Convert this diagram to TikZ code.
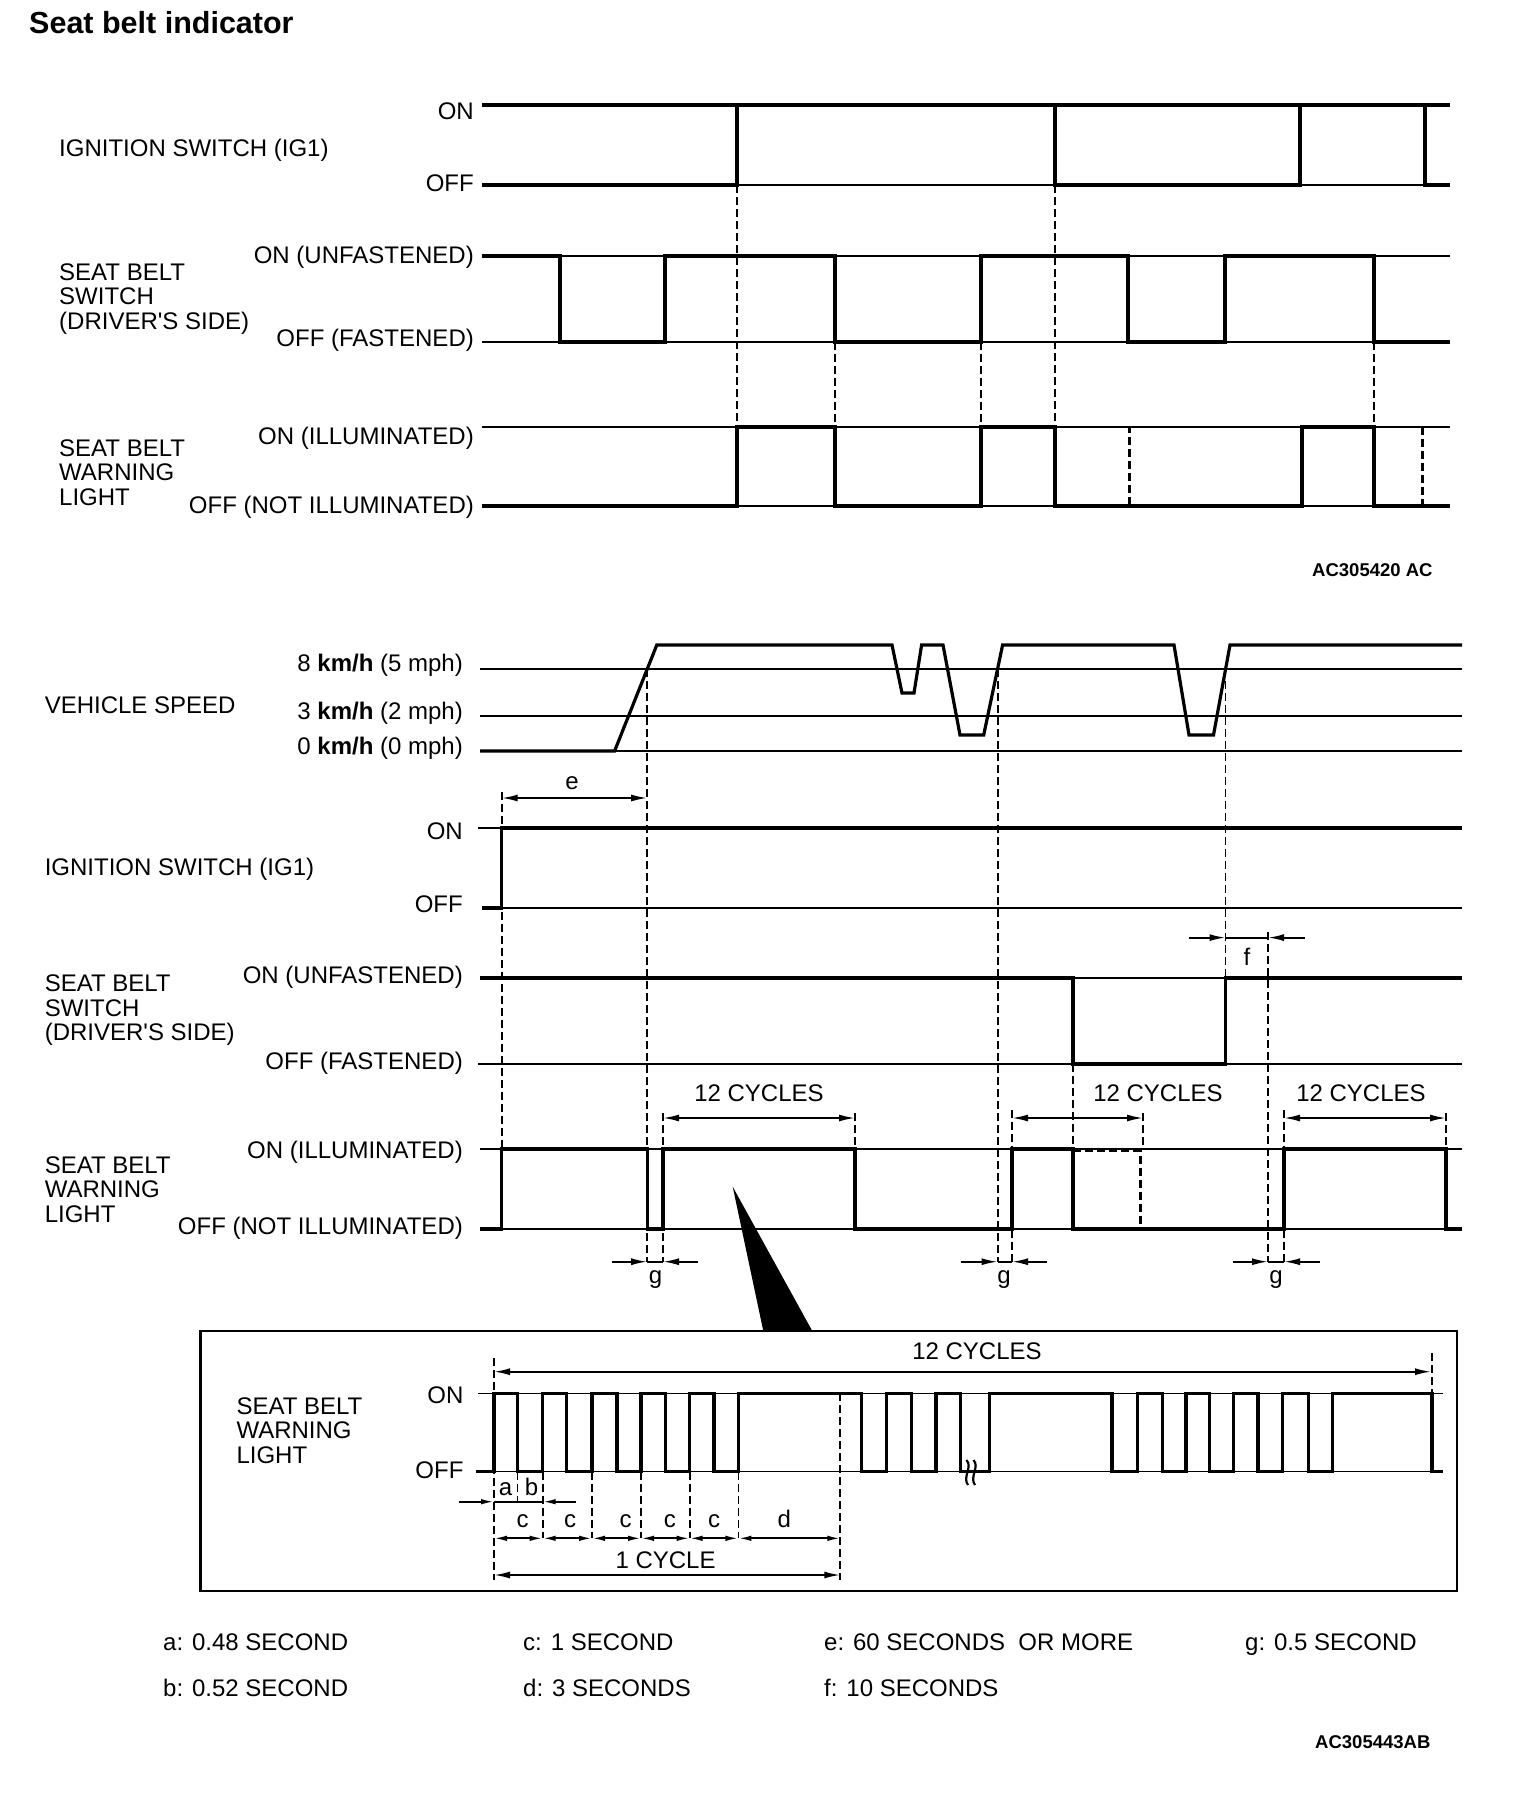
\documentclass[tikz,border=0pt]{standalone}
\usepackage{fontspec}
\setmainfont{Liberation Sans}
\usetikzlibrary{arrows.meta}
\begin{document}
\begin{tikzpicture}[x=1pt,y=-1pt,
 sig/.style={line width=3.2pt,line join=miter},
 ref/.style={line width=1.4pt},
 dl/.style={line width=1.8pt,dash pattern=on 8pt off 4pt},
 dsig/.style={line width=2.8pt,dash pattern=on 8pt off 4pt},
 arr/.style={line width=1.8pt,-{Latex[length=16pt,width=7pt]}},
 darr/.style={line width=1.8pt,{Latex[length=16pt,width=7pt]}-{Latex[length=16pt,width=7pt]}},
 sarr/.style={line width=1.8pt,{Latex[length=13pt,width=5.5pt]}-{Latex[length=13pt,width=5.5pt]}},
 sar/.style={line width=1.8pt,-{Latex[length=13pt,width=5.5pt]}},
 txt/.style={font=\fontsize{24}{24.5}\selectfont,inner sep=0pt},
 cl/.style={txt,text height=17.2pt,text depth=0pt},
 rlab/.style={cl,anchor=east},
 llab/.style={cl,anchor=west},
 mlab/.style={txt,anchor=north west,align=left},
 clab/.style={cl,anchor=center},
 bl/.style={txt,anchor=base},
 blw/.style={txt,anchor=base west},
 code/.style={font=\bfseries\fontsize{18.5}{20}\selectfont,inner sep=0pt,anchor=base west}
]
\useasboundingbox (0,0) rectangle (1520,1794);
\fill[white] (0,0) rectangle (1520,1794);

% ---------------- title
\node[font=\bfseries\fontsize{30.5}{32}\selectfont,inner sep=0pt,anchor=base west] (title) at (29,33.6) {Seat belt indicator};

% ================= TOP DIAGRAM
% reference lines
\draw[sig] (482,105) -- (1450,105);
\draw[ref] (482,185) -- (1450,185);
\draw[ref] (482,256) -- (1450,256);
\draw[ref] (482,342) -- (1450,342);
\draw[ref] (482,427) -- (1450,427);
\draw[ref] (482,506) -- (1450,506);
% dashed guides
\draw[dl] (737,185) -- (737,427);
\draw[dl] (1055,185) -- (1055,427);
\draw[dl] (835,342) -- (835,427);
\draw[dl] (981,342) -- (981,427);
\draw[dl] (1374,342) -- (1374,427);
% ignition switch
\draw[sig] (482,185) -- (737,185) -- (737,105) -- (1055,105) -- (1055,185) -- (1300,185) -- (1300,105) -- (1425,105) -- (1425,185) -- (1450,185);
% seat belt switch
\draw[sig] (482,256) -- (560,256) -- (560,342) -- (665,342) -- (665,256) -- (835,256) -- (835,342) -- (981,342) -- (981,256) -- (1128,256) -- (1128,342) -- (1225,342) -- (1225,256) -- (1374,256) -- (1374,342) -- (1450,342);
% warning light
\draw[sig] (482,506) -- (737,506) -- (737,427) -- (835,427) -- (835,506) -- (981,506) -- (981,427) -- (1055,427) -- (1055,506) -- (1302,506) -- (1302,427) -- (1374,427) -- (1374,506) -- (1450,506);
\draw[dsig] (1055,427) -- (1129.5,427) -- (1129.5,506);
\draw[dsig] (1374,427) -- (1422.5,427) -- (1422.5,506);
% labels
\node[rlab] (a1) at (474,111) {ON};
\node[rlab] (a2) at (474,183) {OFF};
\node[rlab] (a3) at (474,255) {ON (UNFASTENED)};
\node[rlab] (a4) at (474,338) {OFF (FASTENED)};
\node[rlab] (a5) at (474,436) {ON (ILLUMINATED)};
\node[rlab] (a6) at (474,505) {OFF (NOT ILLUMINATED)};
\node[llab] (a7) at (59,148) {IGNITION SWITCH (IG1)};
\node[mlab] (a8) at (59,263.4) {SEAT BELT\\SWITCH\\(DRIVER\textquotesingle S SIDE)};
\node[mlab] (a9) at (59,439.1) {SEAT BELT\\WARNING\\LIGHT};
\node[code] (code1) at (1312,576.8) {AC305420 AC};

% ================= MIDDLE DIAGRAM
% vehicle speed
\draw[ref] (480,669) -- (1462,669);
\draw[ref] (480,716) -- (1462,716);
\draw[ref] (480,751) -- (1462,751);
\draw[sig] (480,751) -- (614.6,751) -- (656.8,645) -- (892,645) -- (902,693) -- (914,693) -- (921.6,645) -- (943,645) -- (960,735) -- (983.7,735) -- (1002.6,645) -- (1174,645) -- (1189,735) -- (1213.5,735) -- (1230,645) -- (1462,645);
% other reference lines
\draw[ref] (478,828) -- (1462,828);
\draw[ref] (482,908) -- (1462,908);
\draw[ref] (480,978) -- (1462,978);
\draw[ref] (478,1064) -- (1462,1064);
\draw[ref] (480,1149) -- (1462,1149);
\draw[ref] (480,1229) -- (1462,1229);
% dashed guides
\draw[dl] (501.7,792) -- (501.7,1149);
\draw[dl] (647.2,669) -- (647.2,1262);
\draw[dl] (663,1113) -- (663,1262);
\draw[dl] (855,1113) -- (855,1149);
\draw[dl] (997.6,669) -- (997.6,1262);
\draw[dl] (1012,1110) -- (1012,1262);
\draw[dl] (1073,1064) -- (1073,1229);
\draw[dl] (1143,1113) -- (1143,1149);
\draw[dl] (1225.5,669) -- (1225.5,978);
\draw[dl] (1268,932) -- (1268,1262);
\draw[dl] (1284,1110) -- (1284,1262);
\draw[dl] (1446,1113) -- (1446,1149);
% ignition switch
\draw[sig] (482,908) -- (501.7,908) -- (501.7,828) -- (1462,828);
% seat belt switch
\draw[sig] (480,978) -- (1073,978) -- (1073,1064) -- (1225.5,1064) -- (1225.5,978) -- (1462,978);
% warning light
\draw[sig] (480,1229) -- (501.7,1229) -- (501.7,1149) -- (647.2,1149) -- (647.2,1229) -- (663,1229) -- (663,1149) -- (855,1149) -- (855,1229) -- (1012,1229) -- (1012,1149) -- (1073,1149) -- (1073,1229) -- (1284,1229) -- (1284,1149) -- (1446,1149) -- (1446,1229) -- (1462,1229);
\draw[dsig] (1073,1151) -- (1140.5,1151) -- (1140.5,1229);
% dimension arrows
\draw[darr] (501.7,798) -- (647.2,798);
\node[bl] (le) at (572,789.2) {e};
\draw[line width=1.8pt] (1225.5,937.6) -- (1268,937.6);
\draw[arr] (1188.7,937.6) -- (1225.5,937.6);
\draw[arr] (1304.6,937.6) -- (1268,937.6);
\node[bl] (lf) at (1247,965.7) {f};
\draw[darr] (663,1118) -- (855,1118);
\draw[darr] (1012,1118) -- (1143,1118);
\draw[darr] (1284,1118) -- (1446,1118);
\node[clab] (c12a) at (759,1093) {12 CYCLES};
\node[clab] (c12b) at (1158,1093) {12 CYCLES};
\node[clab] (c12c) at (1361,1093) {12 CYCLES};
% g markers
\draw[line width=1.8pt] (647.2,1261.7) -- (663,1261.7);
\draw[arr] (612,1261.7) -- (647.2,1261.7);
\draw[arr] (698,1261.7) -- (663,1261.7);
\node[bl] (lg1) at (655.5,1283.7) {g};
\draw[line width=1.8pt] (997.6,1261.7) -- (1012,1261.7);
\draw[arr] (960.7,1261.7) -- (997.6,1261.7);
\draw[arr] (1047,1261.7) -- (1012,1261.7);
\node[bl] (lg2) at (1004,1283.7) {g};
\draw[line width=1.8pt] (1268,1261.7) -- (1284,1261.7);
\draw[arr] (1233.3,1261.7) -- (1268,1261.7);
\draw[arr] (1320,1261.7) -- (1284,1261.7);
\node[bl] (lg3) at (1276,1283.7) {g};
% labels
\node[rlab] (b1) at (463,662.5) {8 \textbf{km/h} (5 mph)};
\node[rlab] (b2) at (463,711) {3 \textbf{km/h} (2 mph)};
\node[rlab] (b3) at (463,746) {0 \textbf{km/h} (0 mph)};
\node[llab] (b4) at (44.6,705) {VEHICLE SPEED};
\node[rlab] (b5) at (463,831) {ON};
\node[llab] (b6) at (44.6,867) {IGNITION SWITCH (IG1)};
\node[rlab] (b7) at (463,904) {OFF};
\node[rlab] (b8) at (463,975) {ON (UNFASTENED)};
\node[mlab] (b9) at (44.6,974.9) {SEAT BELT\\SWITCH\\(DRIVER\textquotesingle S SIDE)};
\node[rlab] (b10) at (463,1061) {OFF (FASTENED)};
\node[rlab] (b11) at (463,1150) {ON (ILLUMINATED)};
\node[mlab] (b12) at (44.6,1156.4) {SEAT BELT\\WARNING\\LIGHT};
\node[rlab] (b13) at (463,1226) {OFF (NOT ILLUMINATED)};

% pointer wedge
\fill (732.7,1186.7) -- (763.3,1331) -- (812.3,1331) -- cycle;

% ================= DETAIL BOX
\draw[line width=2.8pt] (200.5,1331) rectangle (1457,1591);
\draw[ref] (478,1393.3) -- (1443,1393.3);
\draw[ref] (476,1471.7) -- (1443,1471.7);
% dashed guides
\draw[dl] (494,1358) -- (494,1580);
\draw[dl] (1432,1353) -- (1432,1393.3);
\draw[dl] (517.5,1471.7) -- (517.5,1502);
\draw[dl] (542.7,1471.7) -- (542.7,1538);
\draw[dl] (592,1471.7) -- (592,1538);
\draw[dl] (641,1471.7) -- (641,1538);
\draw[dl] (689.6,1471.7) -- (689.6,1538);
\draw[dl] (738.4,1471.7) -- (738.4,1538);
\draw[dl] (840.3,1393.3) -- (840.3,1580);
% pulse train
\draw[sig] (476,1471.7) -- (494,1471.7)
 -- (494,1393.3) -- (517.5,1393.3) -- (517.5,1471.7) -- (542.7,1471.7)
 -- (542.7,1393.3) -- (566.7,1393.3) -- (566.7,1471.7) -- (592,1471.7)
 -- (592,1393.3) -- (617,1393.3) -- (617,1471.7) -- (641,1471.7)
 -- (641,1393.3) -- (665.6,1393.3) -- (665.6,1471.7) -- (689.6,1471.7)
 -- (689.6,1393.3) -- (714,1393.3) -- (714,1471.7) -- (738.4,1471.7)
 -- (738.4,1393.3) -- (861.7,1393.3) -- (861.7,1471.7) -- (886.7,1471.7)
 -- (886.7,1393.3) -- (911.2,1393.3) -- (911.2,1471.7) -- (936,1471.7)
 -- (936,1393.3) -- (960.6,1393.3) -- (960.6,1471.7) -- (989.5,1471.7)
 -- (989.5,1393.3) -- (1112,1393.3) -- (1112,1471.7) -- (1137.4,1471.7)
 -- (1137.4,1393.3) -- (1162.2,1393.3) -- (1162.2,1471.7) -- (1186,1471.7)
 -- (1186,1393.3) -- (1209.7,1393.3) -- (1209.7,1471.7) -- (1233.4,1471.7)
 -- (1233.4,1393.3) -- (1258,1393.3) -- (1258,1471.7) -- (1282.8,1471.7)
 -- (1282.8,1393.3) -- (1308.5,1393.3) -- (1308.5,1471.7) -- (1332.3,1471.7)
 -- (1332.3,1393.3) -- (1432,1393.3) -- (1432,1471.7) -- (1443,1471.7);
% break mark
\draw[line width=2.2pt] (966.5,1460) .. controls (973,1467) and (962,1477) .. (968,1485);
\draw[line width=2.2pt] (973.5,1460) .. controls (980,1467) and (969,1477) .. (975,1485);
% arrows
\draw[darr] (494,1371.7) -- (1431,1371.7);
\node[clab] (d12) at (977,1351) {12 CYCLES};
\draw[line width=1.8pt] (494,1501.7) -- (542.7,1501.7);
\draw[sar] (458.5,1501.7) -- (494,1501.7);
\draw[sar] (576.4,1501.7) -- (542.7,1501.7);
\node[bl] (la) at (505.5,1495) {a};
\node[bl] (lb) at (531.5,1495) {b};
\draw[sarr] (494,1538.3) -- (542.7,1538.3);
\draw[sarr] (542.7,1538.3) -- (592,1538.3);
\draw[sarr] (592,1538.3) -- (641,1538.3);
\draw[sarr] (641,1538.3) -- (689.6,1538.3);
\draw[sarr] (689.6,1538.3) -- (738.4,1538.3);
\draw[sarr] (738.4,1538.3) -- (840.3,1538.3);
\node[bl] (lc1) at (522.5,1527) {c};
\node[bl] (lc2) at (570,1527) {c};
\node[bl] (lc3) at (625.6,1527) {c};
\node[bl] (lc4) at (669.8,1527) {c};
\node[bl] (lc5) at (714,1527) {c};
\node[bl] (ld) at (784.3,1527) {d};
\draw[darr] (494,1575) -- (840.3,1575);
\node[clab] (l1c) at (665.6,1560) {1 CYCLE};
% box labels
\node[rlab] (e1) at (463.6,1395) {ON};
\node[rlab] (e2) at (463.6,1470) {OFF};
\node[mlab] (e3) at (236.3,1397.4) {SEAT BELT\\WARNING\\LIGHT};

% ================= LEGEND
\node[blw] (g1) at (163,1650.6) {a: 0.48 SECOND};
\node[blw] (g2) at (523,1650.6) {c: 1 SECOND};
\node[blw] (g3) at (824,1650.6) {e: 60 SECONDS\ \ OR MORE};
\node[blw] (g4) at (1245,1650.6) {g: 0.5 SECOND};
\node[blw] (g5) at (163,1696.6) {b: 0.52 SECOND};
\node[blw] (g6) at (523,1696.6) {d: 3 SECONDS};
\node[blw] (g7) at (824,1696.6) {f: 10 SECONDS};
\node[code] (code2) at (1315,1748.7) {AC305443AB};
\end{tikzpicture}
\end{document}
